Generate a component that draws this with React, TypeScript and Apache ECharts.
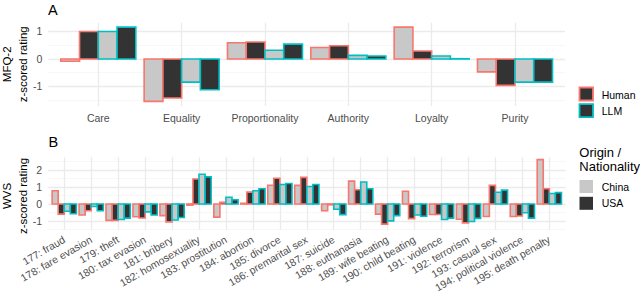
import React, { useEffect, useRef } from 'react';
import * as echarts from 'echarts';

// ---------- Data ----------
const mfqCategories = ['Care', 'Equality', 'Proportionality', 'Authority', 'Loyalty', 'Purity'];
const mfqChinaHuman = [-0.08, -1.54, 0.59, 0.42, 1.16, -0.47];
const mfqUsaHuman = [1.0, -1.42, 0.62, 0.48, 0.29, -0.96];
const mfqChinaLLM = [1.0, -0.84, 0.32, 0.13, 0.11, -0.84];
const mfqUsaLLM = [1.16, -1.12, 0.54, 0.11, 0.01, -0.84];
const mfqTicks = [-1, 0, 1];
const mfqMinorTicks = [-1.5, -0.5, 0.5];

const wvsCategories = [
  '177: fraud', '178: fare evasion', '179: theft', '180: tax evasion', '181: bribery',
  '182: homosexuality', '183: prostitution', '184: abortion', '185: divorce', '186: premarital sex',
  '187: suicide', '188: euthanasia', '189: wife beating', '190: child beating', '191: violence',
  '192: terrorism', '193: casual sex', '194: political violence', '195: death penalty',
];
const wvsChinaHuman = [0.78, -0.65, -0.97, -0.76, -0.69, -0.07, -0.78, 0.04, 1.11, 1.1, -0.4, 1.35, -0.6, 0.75, -0.62, -0.9, -0.74, -0.74, 2.62];
const wvsUsaHuman = [-0.6, -0.4, -0.97, -0.83, -1.06, 1.48, 0.1, 0.7, 1.52, 1.57, -0.05, 0.84, -1.19, -0.87, -0.62, -1.12, 1.1, -0.71, 0.9];
const wvsChinaLLM = [-0.43, -0.15, -0.92, -0.47, -0.95, 1.76, 0.4, 0.78, 1.15, 1.03, -0.31, 1.3, -1.0, -0.65, -0.92, -1.04, 0.69, -0.52, 0.62];
const wvsUsaLLM = [-0.58, -0.4, -0.84, -0.65, -0.8, 1.6, 0.25, 0.9, 1.21, 1.15, -0.63, 0.9, -0.69, -0.73, -0.84, -0.85, 0.82, -0.84, 0.67];
const wvsTicks = [-1, 0, 1, 2];
const wvsMinorTicks = [-1.5, -0.5, 0.5, 1.5, 2.5];

// ---------- Styles ----------
const RED = '#F8766D';
const TEAL = '#00BFC4';
const LIGHT = '#C8C8C8';
const DARK = '#333333';
const FONT = 'Liberation Sans, Arial, Helvetica, sans-serif';
const GRID_MAJOR = '#EBEBEB';
const GRID_MINOR = '#F3F3F3';
const groupStyles = [
  { fill: LIGHT, stroke: RED },
  { fill: DARK, stroke: RED },
  { fill: LIGHT, stroke: TEAL },
  { fill: DARK, stroke: TEAL },
];

function barSeries(groups: number[][], xAxisIndex: number, yAxisIndex: number) {
  return groups.map((vals, g) => ({
    type: 'custom',
    xAxisIndex,
    yAxisIndex,
    clip: false,
    data: vals.map((v, i) => [i + 1, v]),
    renderItem: (_params: any, api: any) => {
      const xi = api.value(0);
      const v = api.value(1);
      const w = 0.9 / 4;
      const xc = xi + (g - 1.5) * w;
      const a = api.coord([xc - w / 2, 0]);
      const b = api.coord([xc + w / 2, v]);
      return {
        type: 'rect',
        shape: {
          x: a[0],
          y: Math.min(a[1], b[1]),
          width: b[0] - a[0],
          height: Math.abs(b[1] - a[1]),
        },
        style: { fill: groupStyles[g].fill, stroke: groupStyles[g].stroke, lineWidth: 1.6 },
      };
    },
  }));
}

function xAxisDef(gridIndex: number, cats: string[], rotate: number, fontSize: number, margin: number) {
  const vals = cats.map((_, i) => i + 1);
  return {
    gridIndex,
    type: 'value',
    min: 0.4,
    max: cats.length + 0.6,
    axisLine: { show: false },
    axisTick: { show: false, customValues: vals },
    axisLabel: {
      customValues: vals,
      formatter: (v: number) => cats[Math.round(v) - 1] ?? '',
      color: '#4D4D4D',
      fontSize,
      fontFamily: FONT,
      margin,
      rotate,
    },
    splitLine: { show: true, lineStyle: { color: GRID_MAJOR, width: 1.3 } },
  };
}

function yAxesDef(gridIndex: number, min: number, max: number, ticks: number[], minor: number[]) {
  return [
    {
      gridIndex,
      type: 'value',
      min,
      max,
      axisLine: { show: false },
      axisTick: { show: false, customValues: ticks },
      axisLabel: { customValues: ticks, color: '#4D4D4D', fontSize: 10.5, fontFamily: FONT, margin: 6 },
      splitLine: { show: true, lineStyle: { color: GRID_MAJOR, width: 1.3 } },
    },
    {
      gridIndex,
      type: 'value',
      position: 'left',
      min,
      max,
      axisLine: { show: false },
      axisTick: { show: false, customValues: minor },
      axisLabel: { show: false },
      splitLine: { show: true, lineStyle: { color: GRID_MINOR, width: 0.7 } },
    },
  ];
}

function txt(text: string, x: number, y: number, size: number, opts: any = {}) {
  return {
    type: 'text',
    x,
    y,
    rotation: opts.rotation ?? 0,
    style: {
      text,
      fill: opts.color ?? '#000000',
      fontSize: size,
      fontFamily: FONT,
      textAlign: opts.align ?? 'left',
      textVerticalAlign: 'middle',
    },
  };
}

function keyRect(x: number, y: number, fill: string, stroke: string) {
  return {
    type: 'rect',
    shape: { x, y, width: 13.5, height: 13 },
    style: { fill, stroke, lineWidth: stroke === 'none' ? 0 : 1.8 },
  };
}

export default function App() {
  const ref = useRef<HTMLDivElement>(null);

  useEffect(() => {
    if (!ref.current) return;
    const chart = echarts.init(ref.current, undefined, { renderer: 'svg' });
    const option: any = {
      animation: false,
      backgroundColor: '#FFFFFF',
      grid: [
        { left: 48.3, top: 22.7, width: 516.7, height: 83.3 },
        { left: 48.1, top: 157.3, width: 517.4, height: 77.7 },
      ],
      xAxis: [xAxisDef(0, mfqCategories, 0, 10.5, 6), xAxisDef(1, wvsCategories, 30, 10.5, 9)],
      yAxis: [
        ...yAxesDef(0, -1.71, 1.32, mfqTicks, mfqMinorTicks),
        ...yAxesDef(1, -1.53, 2.76, wvsTicks, wvsMinorTicks),
      ],
      series: [
        ...barSeries([mfqChinaHuman, mfqUsaHuman, mfqChinaLLM, mfqUsaLLM], 0, 0),
        ...barSeries([wvsChinaHuman, wvsUsaHuman, wvsChinaLLM, wvsUsaLLM], 1, 2),
      ],
      graphic: [
        txt('A', 48, 9.5, 14.5),
        txt('B', 48.5, 142, 14.5),
        txt('MFQ-2', 7, 64.3, 11.5, { rotation: Math.PI / 2, align: 'center' }),
        txt('z-scored rating', 22.5, 64.3, 11.5, { rotation: Math.PI / 2, align: 'center' }),
        txt('WVS', 7, 196, 11.5, { rotation: Math.PI / 2, align: 'center' }),
        txt('z-scored rating', 22.5, 196, 11.5, { rotation: Math.PI / 2, align: 'center' }),
        keyRect(579.5, 87.5, DARK, RED),
        keyRect(579.5, 104.2, DARK, TEAL),
        txt('Human', 601.7, 94.5, 10.5),
        txt('LLM', 601.7, 111, 10.5),
        txt('Origin /', 579.3, 152, 13),
        txt('Nationality', 579.3, 166.7, 13),
        keyRect(579.5, 180, LIGHT, 'none'),
        keyRect(579.5, 196.8, DARK, 'none'),
        txt('China', 601.7, 186.7, 10.5),
        txt('USA', 601.7, 203.3, 10.5),
      ],
    };
    chart.setOption(option);
    return () => chart.dispose();
  }, []);

  return (
    <div
      ref={ref}
      style={{ position: 'fixed', left: 0, top: 0, width: 640, height: 295, background: '#fff' }}
    />
  );
}
